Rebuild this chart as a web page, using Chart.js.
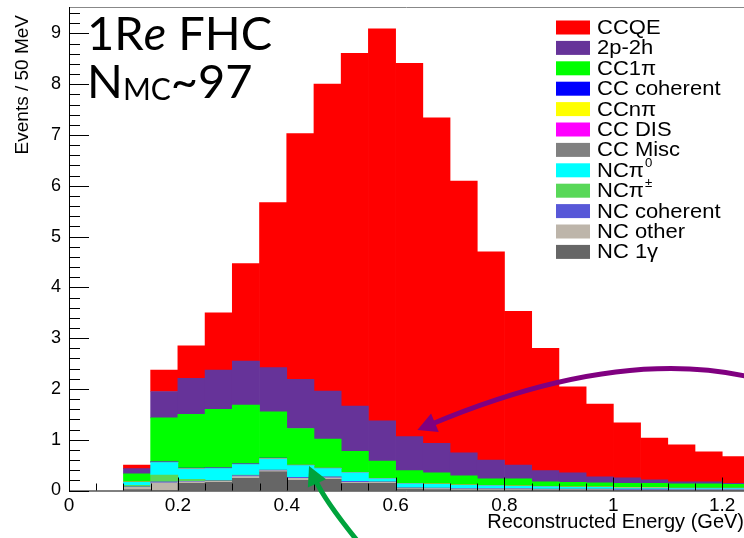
<!DOCTYPE html>
<html>
<head>
<meta charset="utf-8">
<script src="https://cdn.jsdelivr.net/npm/chart.js@4.4.1/dist/chart.umd.min.js"></script>
<style>
  html, body { margin: 0; padding: 0; background: #fff; overflow: hidden; }
  canvas { display: block; }
</style>
</head>
<body>
<canvas id="energy-chart" width="744" height="538"></canvas>
<script>
// Bin centres (GeV) of the 50 MeV bins that have entries (0.10 - 1.25 GeV)
let binCenters = [0.125, 0.175, 0.225, 0.275, 0.325, 0.375, 0.425, 0.475, 0.525, 0.575, 0.625, 0.675,
                  0.725, 0.775, 0.825, 0.875, 0.925, 0.975, 1.025, 1.075, 1.125, 1.175, 1.225];

// Events per bin for each interaction mode
let ccqe     = [0.07, 0.42, 0.64, 1.13, 1.92, 3.25, 4.84, 6.04, 6.95, 7.72, 7.35, 6.41, 5.35, 4.10, 3.03, 2.41, 1.69, 1.43, 1.08, 0.82, 0.73, 0.59, 0.53];
let twoP2h   = [0.10, 0.52, 0.71, 0.77, 0.87, 0.87, 0.97, 0.95, 0.89, 0.79, 0.67, 0.58, 0.45, 0.37, 0.27, 0.22, 0.19, 0.12, 0.11, 0.07, 0.04, 0.04, 0.02];
let cc1pi    = [0.16, 0.86, 1.06, 1.15, 1.15, 0.91, 0.72, 0.57, 0.41, 0.34, 0.25, 0.22, 0.18, 0.13, 0.14, 0.09, 0.09, 0.08, 0.08, 0.08, 0.08, 0.08, 0.07];
let ccCoh    = [0, 0.01, 0.01, 0.01, 0.01, 0.01, 0, 0, 0, 0, 0, 0, 0, 0, 0, 0, 0, 0, 0, 0, 0, 0, 0];
let ccNpi    = [0.01, 0.01, 0.01, 0.01, 0.01, 0.01, 0.01, 0.01, 0.01, 0.01, 0.01, 0.01, 0.01, 0.01, 0.01, 0.01, 0.01, 0.01, 0.01, 0.01, 0.01, 0.01, 0.01];
let ccDis    = [0, 0, 0, 0, 0, 0, 0, 0, 0, 0, 0, 0, 0, 0, 0, 0, 0, 0, 0, 0, 0, 0, 0];
let ccMisc   = [0, 0, 0, 0, 0, 0, 0, 0, 0, 0, 0, 0, 0, 0, 0, 0, 0, 0, 0, 0, 0, 0, 0];
let ncPi0    = [0.06, 0.245, 0.20, 0.23, 0.205, 0.22, 0.23, 0.16, 0.17, 0.06, 0.075, 0.07, 0.06, 0.05, 0.04, 0.04, 0.03, 0.03, 0.02, 0.02, 0.02, 0.02, 0.02];
let ncPiPm   = [0.03, 0.135, 0.04, 0.01, 0.01, 0, 0, 0, 0, 0, 0, 0, 0, 0, 0, 0, 0, 0, 0, 0, 0, 0, 0];
let ncCoh    = [0.01, 0.02, 0.01, 0.01, 0.02, 0.01, 0.02, 0.02, 0.02, 0.01, 0.01, 0.01, 0.01, 0.01, 0.01, 0.01, 0.01, 0.01, 0.02, 0.02, 0.01, 0.01, 0.01];
let ncOther  = [0.04, 0.15, 0.03, 0.02, 0.035, 0.02, 0.04, 0.03, 0.02, 0.02, 0.015, 0.02, 0.02, 0.02, 0.02, 0.01, 0.01, 0.01, 0.01, 0.01, 0.01, 0.01, 0.01];
let nc1gamma = [0.02, 0, 0.14, 0.16, 0.24, 0.37, 0.20, 0.22, 0.14, 0.14, 0.03, 0.02, 0.01, 0.01, 0.01, 0.01, 0.01, 0.01, 0, 0, 0, 0, 0];

// Stack order, bottom first ('^' marks a superscript in the legend)
let modeNames  = ['NC 1γ', 'NC other', 'NC coherent', 'NCπ^±', 'NCπ^0', 'CC Misc', 'CC DIS', 'CCnπ', 'CC coherent', 'CC1π', '2p-2h', 'CCQE'];
let modeValues = [nc1gamma, ncOther, ncCoh, ncPiPm, ncPi0, ccMisc, ccDis, ccNpi, ccCoh, cc1pi, twoP2h, ccqe];
let modeColors = ['#666666', '#bdb5aa', '#5858d8', '#58d858', '#00ffff', '#808080', '#ff00ff', '#ffff00', '#0000ff', '#00ff00', '#663399', '#ff0000'];

// x tick labels every 0.2 GeV, y ticks every event
let xTickStep = 0.2;
let yTickStep = 1;

const FONT = '"Liberation Sans", Arial, Helvetica, sans-serif';

let datasets = modeNames.map((name, i) => ({
    label: name.replace('^', ''),
    data: binCenters.map((c, j) => ({ x: c, y: modeValues[i][j] })),
    backgroundColor: modeColors[i],
    borderWidth: 0,
    barPercentage: 1,
    categoryPercentage: 1,
    stack: 'all'
}));

// Draws the ROOT style pieces: inner ticks, frame, legend box, labels and arrows
const rootStyle = {
    id: 'rootStyle',
    afterDatasetsDraw(chart) {
        const { ctx, chartArea: a, scales: { x, y } } = chart;
        ctx.save();
        ctx.lineWidth = 1;
        // frame
        ctx.strokeStyle = '#888';
        ctx.beginPath();
        ctx.moveTo(a.left, a.top + 0.5);
        ctx.lineTo(a.right, a.top + 0.5);
        ctx.stroke();
        ctx.strokeStyle = '#000';
        ctx.beginPath();
        ctx.moveTo(a.left + 0.5, a.top);
        ctx.lineTo(a.left + 0.5, a.bottom + 0.5);
        ctx.lineTo(a.right, a.bottom + 0.5);
        ctx.stroke();
        // ticks pointing into the plot
        ctx.beginPath();
        for (let i = 0; i * 0.2 <= y.max; i++) {
            const py = Math.round(y.getPixelForValue(i * 0.2)) + 0.5;
            const len = i % 5 === 0 ? 20 : 11;
            ctx.moveTo(a.left, py);
            ctx.lineTo(a.left + len, py);
        }
        for (let i = 0; i * 0.05 <= x.max; i++) {
            const px = Math.round(x.getPixelForValue(i * 0.05)) + 0.5;
            const len = i % 4 === 0 ? 13 : 7;
            ctx.moveTo(px, a.bottom);
            ctx.lineTo(px, a.bottom - len);
        }
        ctx.stroke();
        ctx.restore();
    },
    afterDraw(chart) {
        const { ctx, scales: { x, y } } = chart;
        ctx.save();

        // y axis title, right-aligned near the top like ROOT
        ctx.save();
        ctx.translate(23, 15);
        ctx.rotate(-Math.PI / 2);
        ctx.fillStyle = '#000';
        ctx.font = '19px ' + FONT;
        ctx.textAlign = 'right';
        ctx.textBaseline = 'middle';
        ctx.fillText('Events / 50 MeV', 0, 0);
        ctx.restore();

        // legend, top entry is the top of the stack
        ctx.textBaseline = 'middle';
        ctx.textAlign = 'left';
        for (let k = 0; k < modeNames.length; k++) {
            const i = modeNames.length - 1 - k;
            const cy = 27.5 + k * 20.4;
            ctx.fillStyle = modeColors[i];
            ctx.fillRect(556, cy - 7, 34, 14);
            const parts = modeNames[i].split('^');
            ctx.fillStyle = '#000';
            ctx.save();
            ctx.translate(597, cy);
            ctx.scale(1.1, 1);
            ctx.font = '20px ' + FONT;
            ctx.fillText(parts[0], 0, 1);
            if (parts[1]) {
                const w = ctx.measureText(parts[0]).width;
                ctx.font = '12px ' + FONT;
                ctx.fillText(parts[1], w + 1, -7);
            }
            ctx.restore();
        }

        // sample label
        ctx.fillStyle = '#000';
        ctx.textBaseline = 'alphabetic';
        let tx = 87;
        ctx.font = '47px Lato';
        ctx.fillText('1R', tx, 50);
        tx += ctx.measureText('1R').width;
        ctx.font = 'italic 47px Lato';
        ctx.fillText('e', tx, 50);
        tx += ctx.measureText('e').width;
        ctx.font = '47px Lato';
        ctx.fillText(' FHC', tx, 50);
        tx = 87;
        ctx.fillText('N', tx, 98);
        tx += ctx.measureText('N').width;
        ctx.font = '30px Lato';
        ctx.fillText('MC', tx, 100);
        tx += ctx.measureText('MC').width;
        ctx.font = '47px Lato';
        ctx.fillText('~97', tx, 98);

        // annotation arrows, anchored in axis units
        const arrow = (pts, color) => {
            const p = pts.map(([vx, vy]) => [x.getPixelForValue(vx), y.getPixelForValue(vy)]);
            const [p0, p1, p2] = p;
            const dx = p2[0] - p1[0], dy = p2[1] - p1[1];
            const d = Math.hypot(dx, dy);
            const ux = dx / d, uy = dy / d;
            const headLen = 19, headW = 10;
            const bx = p2[0] - ux * headLen, by = p2[1] - uy * headLen;
            ctx.strokeStyle = color;
            ctx.fillStyle = color;
            ctx.lineWidth = 5;
            ctx.beginPath();
            ctx.moveTo(p0[0], p0[1]);
            ctx.quadraticCurveTo(p1[0], p1[1], bx + ux * 4, by + uy * 4);
            ctx.stroke();
            ctx.beginPath();
            ctx.moveTo(p2[0], p2[1]);
            ctx.lineTo(bx - uy * headW, by + ux * headW);
            ctx.lineTo(bx + uy * headW, by - ux * headW);
            ctx.closePath();
            ctx.fill();
        };
        arrow([[1.26, 2.21], [1.012, 2.86], [0.64, 1.19]], '#800080');
        arrow([[0.529, -0.98], [0.47, -0.2], [0.441, 0.48]], '#00a33c');

        ctx.restore();
    }
};

// keep the plot frame where ROOT put it: no extra room for edge labels
const noEdgePadding = (scale) => {
    scale.paddingTop = 0;
    scale.paddingBottom = 0;
    scale.paddingLeft = 0;
    scale.paddingRight = 0;
};

let config = {
    type: 'bar',
    data: { datasets: datasets },
    options: {
        responsive: false,
        animation: false,
        devicePixelRatio: 1,
        layout: { padding: { top: 7, left: 0, right: 0, bottom: 0 } },
        plugins: {
            legend: { display: false },
            tooltip: { enabled: false }
        },
        scales: {
            x: {
                type: 'linear',
                min: 0,
                max: 1.24,
                offset: false,
                grid: { display: false, drawTicks: false },
                border: { display: false },
                ticks: {
                    stepSize: xTickStep,
                    includeBounds: false,
                    padding: 4,
                    color: '#000',
                    font: { size: 19, family: FONT },
                    maxRotation: 0,
                    autoSkip: false,
                    callback: (v) => String(+v.toFixed(2))
                },
                afterBuildTicks: (scale) => {
                    scale.ticks = scale.ticks.filter(t => Math.abs(t.value / xTickStep - Math.round(t.value / xTickStep)) < 1e-6);
                },
                afterFit: (scale) => { scale.height = 47.5; noEdgePadding(scale); },
                title: {
                    display: true,
                    text: 'Reconstructed Energy (GeV)',
                    align: 'end',
                    color: '#000',
                    font: { size: 20, family: FONT },
                    padding: { top: 0, bottom: 4 }
                }
            },
            y: {
                stacked: true,
                min: 0,
                max: 9.52,
                grid: { display: false, drawTicks: false },
                border: { display: false },
                ticks: {
                    stepSize: yTickStep,
                    includeBounds: false,
                    padding: 8,
                    color: '#000',
                    font: { size: 18, family: FONT }
                },
                afterBuildTicks: (scale) => {
                    scale.ticks = scale.ticks.filter(t => Number.isInteger(t.value));
                },
                afterFit: (scale) => { scale.width = 69; noEdgePadding(scale); }
            }
        }
    },
    plugins: [rootStyle]
};

let energyChart = new Chart(document.getElementById('energy-chart'), config);
</script>
</body>
</html>
